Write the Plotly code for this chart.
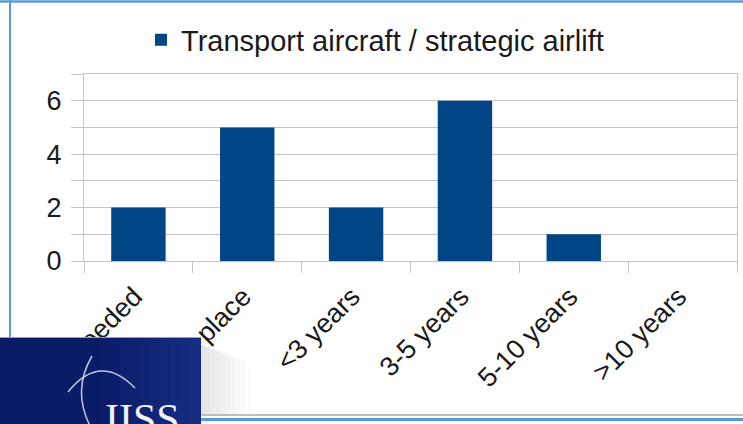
import plotly.graph_objects as go

categories = ["Not needed", "Already in place", "<3 years", "3-5 years", "5-10 years", ">10 years"]
counts = [2, 5, 2, 6, 1, 0]
series_name = "Transport aircraft / strategic airlift"
y_tickvals = [0, 1, 2, 3, 4, 5, 6, 7]
y_ticktext = ["0", "", "2", "", "4", "", "6", ""]

W, H = 743, 424
L, R, T, B = 84, 6, 74, 163
PW, PH = W - L - R, H - T - B


def px(x):
    return (x - L) / PW


def py(y):
    return (H - B - y) / PH


GRID = "#c4c4c4"
BLUE_EDGE = "#5b9bd5"

fig = go.Figure()
fig.add_trace(go.Bar(
    x=categories, y=counts, name=series_name,
    marker=dict(color="#004586", line=dict(width=0)),
    showlegend=True,
))

fig.update_xaxes(
    tickangle=-45, tickson="boundaries", ticks="outside", ticklen=11, tickcolor=GRID,
    ticklabelstandoff=8, ticklabelshift=-4, automargin=False,
    showline=True, linecolor=GRID, mirror=True, showgrid=False,
    tickfont=dict(family="Liberation Sans, Arial, sans-serif", size=27, color="#1a1a1a"),
)
fig.update_yaxes(
    range=[0, 7], tickvals=y_tickvals, ticktext=y_ticktext,
    ticks="outside", ticklen=12, tickcolor=GRID, ticklabelstandoff=4, automargin=False,
    showline=True, linecolor=GRID, mirror=True,
    showgrid=True, gridcolor=GRID, zeroline=False,
    tickfont=dict(family="Liberation Sans, Arial, sans-serif", size=27, color="#1a1a1a"),
)

shapes = [
    # slide frame
    dict(type="line", xref="paper", yref="paper", x0=px(0), x1=px(W), y0=py(1.5), y1=py(1.5),
         line=dict(color=BLUE_EDGE, width=2.5)),
    dict(type="line", xref="paper", yref="paper", x0=px(10), x1=px(10), y0=py(0), y1=py(337),
         line=dict(color=BLUE_EDGE, width=2)),
    dict(type="line", xref="paper", yref="paper", x0=px(200), x1=px(W), y0=py(415), y1=py(415),
         line=dict(color="#a8a8a8", width=1.5)),
    dict(type="line", xref="paper", yref="paper", x0=px(200), x1=px(W), y0=py(419.5), y1=py(419.5),
         line=dict(color=BLUE_EDGE, width=3)),
]

# soft shadow to the right of the logo
for i in range(10):
    shapes.append(dict(type="rect", xref="paper", yref="paper", layer="above",
                       x0=px(200 + i * 5), x1=px(205 + i * 5), y0=py(414), y1=py(345 + i * 2),
                       fillcolor=f"rgba(0,0,0,{0.10 - i * 0.01:.3f})", line=dict(width=0)))

# logo box with a left-to-right gradient
shapes.append(dict(type="rect", xref="paper", yref="paper", x0=px(0), x1=px(201), y0=py(424), y1=py(337),
                   fillcolor="#0a1c66", line=dict(width=0), layer="above"))
for i in range(10):
    shapes.append(dict(type="rect", xref="paper", yref="paper", layer="above",
                       x0=px(100 + i * 10), x1=px(110 + i * 10 + (1 if i == 9 else 0)), y0=py(424), y1=py(337),
                       fillcolor=f"rgba(40,70,170,{0.04 * (i + 1):.3f})", line=dict(width=0)))
shapes += [
    dict(type="line", xref="paper", yref="paper", x0=px(0), x1=px(201), y0=py(337.5), y1=py(337.5),
         line=dict(color="#7f9fd8", width=1), layer="above"),
    # globe arcs
    dict(type="path", xref="paper", yref="paper", layer="above",
         path=f"M {px(92)},{py(356)} Q {px(72)},{py(390)} {px(90)},{py(426)}",
         line=dict(color="rgba(220,225,245,0.85)", width=1.5)),
    dict(type="path", xref="paper", yref="paper", layer="above",
         path=f"M {px(68)},{py(392)} Q {px(100)},{py(352)} {px(135)},{py(388)}",
         line=dict(color="rgba(220,225,245,0.85)", width=1.5)),
]

annotations = [
    dict(text="IISS", xref="paper", yref="paper", x=px(103), y=py(394),
         xanchor="left", yanchor="top", showarrow=False,
         font=dict(family="Liberation Serif, DejaVu Serif, serif", size=42, color="#f2f2f6")),
]

fig.update_layout(
    width=W, height=H, autosize=False,
    margin=dict(l=L, r=R, t=T, b=B, autoexpand=False),
    plot_bgcolor="white", paper_bgcolor="white",
    bargap=0.5,
    showlegend=True,
    legend=dict(
        orientation="h", x=px(375), xanchor="center", y=py(40), yanchor="middle",
        font=dict(family="Liberation Sans, Arial, sans-serif", size=29, color="#1a1a1a"),
        bgcolor="rgba(0,0,0,0)",
    ),
    shapes=shapes,
    annotations=annotations,
)

fig.write_html("out.html", config={"displayModeBar": False},
               post_script="document.body.style.margin='0';")
